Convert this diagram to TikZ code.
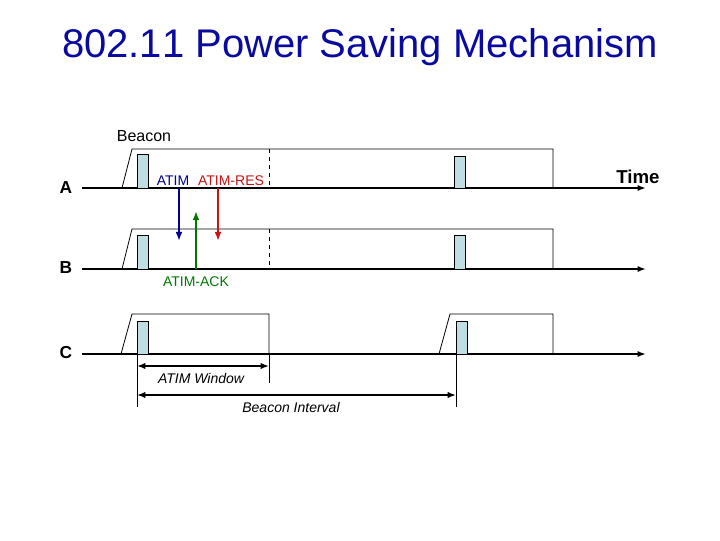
\documentclass[tikz,border=0pt]{standalone}
\usepackage{fontspec}
\setmainfont{Liberation Sans}
\usepackage{xcolor}
\usetikzlibrary{arrows.meta,positioning}
\definecolor{titleblue}{RGB}{10,10,160}
\definecolor{atimblue}{RGB}{0,0,150}
\definecolor{resred}{RGB}{200,20,20}
\definecolor{ackgreen}{RGB}{0,120,0}
\definecolor{beaconfill}{RGB}{192,222,226}

\begin{document}
\begin{tikzpicture}[x=0.75pt,y=-0.75pt,
    axis/.style={line width=1.5pt,-{Latex[length=2.2mm,width=1.6mm]}},
    awake/.style={line width=0.6pt},
    beacon/.style={draw,line width=0.6pt,fill=beaconfill},
    msg/.style={line width=1.2pt,-{Latex[length=2.4mm,width=1.8mm]}},
    span/.style={line width=1.3pt,{Latex[length=2.2mm,width=1.7mm]}-{Latex[length=2.2mm,width=1.7mm]}},
    station/.style={font=\bfseries\fontsize{13}{15}\selectfont},
    lbl/.style={font=\fontsize{10.5}{13}\selectfont,inner sep=1pt},
    dim/.style={font=\itshape\fontsize{10.5}{12}\selectfont,inner sep=1pt}
]
\useasboundingbox (0,0) rectangle (720,540);
\node[text=titleblue,font=\addfontfeature{Kerning=Off}\fontsize{30}{34}\selectfont] (title) at (360,47) {802.11 Power Saving Mechanism};

\node[station] (A) at (66,188) {A};
\node[station] (B) at (66,268) {B};
\node[station] (C) at (66,353) {C};

\coordinate (a0) at (82,188);
\coordinate (a1) at (646,188);
\coordinate (b0) at (82,269);
\coordinate (b1) at (646,269);
\coordinate (c0) at (82,354);
\coordinate (c1) at (646,354);
\draw[axis] (a0) -- (a1);
\draw[axis] (b0) -- (b1);
\draw[axis] (c0) -- (c1);

\draw[awake] (122,188) -- (132,149) -- (553,149) -- (553,188);
\draw[awake,dashed] (269,149) -- (269,188);
\draw[awake] (122,269) -- (132,229) -- (553,229) -- (553,269);
\draw[awake,dashed] (269,229) -- (269,269);
\draw[awake] (121,354) -- (132,314) -- (269,314) -- (269,354);
\draw[awake] (439,354) -- (450,314) -- (553,314) -- (553,354);

\foreach \x/\y/\z in {137/154/188,454/156/188,137/235/269,454/235/269,137/321/354,456/321/354}
  \draw[beacon] (\x,\y) rectangle ++(11,\z-\y);

\node[lbl,font=\fontsize{12}{14}\selectfont] (bcn) at (144,136) {Beacon};
\node[lbl,text=atimblue] (atim) at (173,181) {ATIM};
\node[lbl,text=resred] (res) at (231,181) {ATIM-RES};
\node[lbl,text=ackgreen] (ack) at (196,282) {ATIM-ACK};
\node[font=\bfseries\fontsize{14}{16}\selectfont] (time) at (638,177) {Time};

\coordinate (atimS) at (179,188);
\coordinate (atimE) at (179,241);
\coordinate (resS) at (218,188);
\coordinate (resE) at (218,241);
\coordinate (ackS) at (196,269);
\coordinate (ackE) at (196,211);
\draw[msg,atimblue] (atimS) -- (atimE);
\draw[msg,resred] (resS) -- (resE);
\draw[msg,ackgreen] (ackS) -- (ackE);

\draw[line width=0.6pt] (137,354) -- (137,407);
\draw[line width=0.6pt] (269,354) -- (269,383);
\draw[line width=0.6pt] (456,354) -- (456,407);
\coordinate (w0) at (137,366);
\coordinate (w1) at (269,366);
\coordinate (i0) at (137,395);
\coordinate (i1) at (456,395);
\draw[span] (w0) -- (w1);
\draw[span] (i0) -- (i1);
\node[dim] (win) at (201,378) {ATIM Window};
\node[dim] (ivl) at (291,407) {Beacon Interval};
\end{tikzpicture}
\end{document}
